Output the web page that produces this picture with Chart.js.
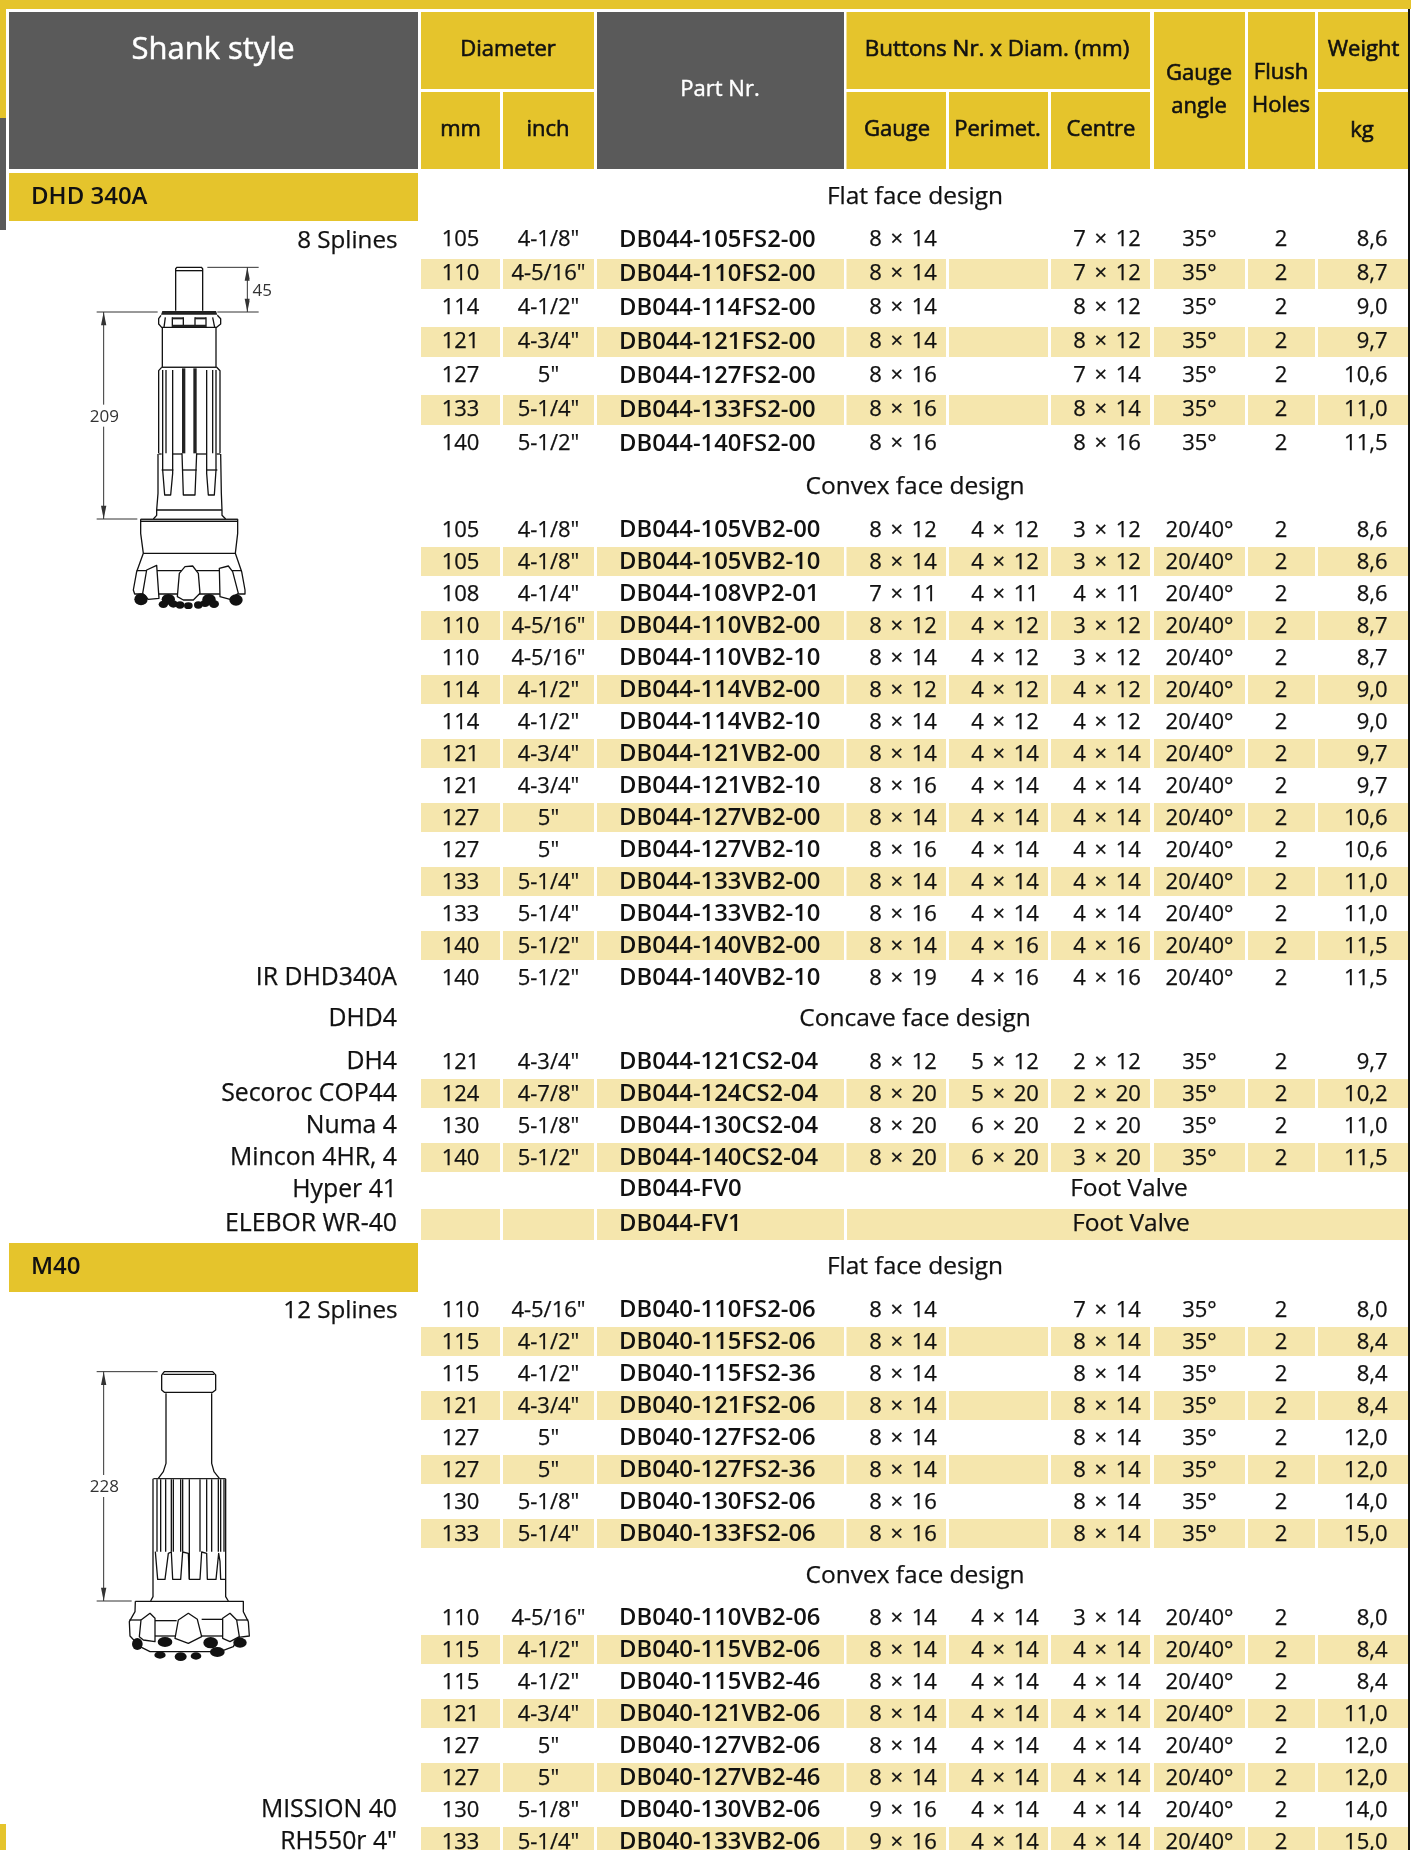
<!DOCTYPE html>
<html>
<head>
<meta charset="utf-8">
<title>DHD 340A / M40 bits</title>
<script src="https://cdn.jsdelivr.net/npm/chart.js@4"></script>
<style>
  html, body { margin: 0; padding: 0; background: #fff; }
  canvas { display: block; }
</style>
</head>
<body>
<canvas id="tableChart" width="1411" height="1850"></canvas>
<script>
// --- DATA: mm, inch, part nr, gauge, perimeter, centre, angle, holes, kg ---
const dhdFlat = [
  ['105', '4-1/8"', 'DB044-105FS2-00', '8 × 14', '', '7 × 12', '35°', '2', '8,6'],
  ['110', '4-5/16"', 'DB044-110FS2-00', '8 × 14', '', '7 × 12', '35°', '2', '8,7'],
  ['114', '4-1/2"', 'DB044-114FS2-00', '8 × 14', '', '8 × 12', '35°', '2', '9,0'],
  ['121', '4-3/4"', 'DB044-121FS2-00', '8 × 14', '', '8 × 12', '35°', '2', '9,7'],
  ['127', '5"', 'DB044-127FS2-00', '8 × 16', '', '7 × 14', '35°', '2', '10,6'],
  ['133', '5-1/4"', 'DB044-133FS2-00', '8 × 16', '', '8 × 14', '35°', '2', '11,0'],
  ['140', '5-1/2"', 'DB044-140FS2-00', '8 × 16', '', '8 × 16', '35°', '2', '11,5']
];
const dhdConvex = [
  ['105', '4-1/8"', 'DB044-105VB2-00', '8 × 12', '4 × 12', '3 × 12', '20/40°', '2', '8,6'],
  ['105', '4-1/8"', 'DB044-105VB2-10', '8 × 14', '4 × 12', '3 × 12', '20/40°', '2', '8,6'],
  ['108', '4-1/4"', 'DB044-108VP2-01', '7 × 11', '4 × 11', '4 × 11', '20/40°', '2', '8,6'],
  ['110', '4-5/16"', 'DB044-110VB2-00', '8 × 12', '4 × 12', '3 × 12', '20/40°', '2', '8,7'],
  ['110', '4-5/16"', 'DB044-110VB2-10', '8 × 14', '4 × 12', '3 × 12', '20/40°', '2', '8,7'],
  ['114', '4-1/2"', 'DB044-114VB2-00', '8 × 12', '4 × 12', '4 × 12', '20/40°', '2', '9,0'],
  ['114', '4-1/2"', 'DB044-114VB2-10', '8 × 14', '4 × 12', '4 × 12', '20/40°', '2', '9,0'],
  ['121', '4-3/4"', 'DB044-121VB2-00', '8 × 14', '4 × 14', '4 × 14', '20/40°', '2', '9,7'],
  ['121', '4-3/4"', 'DB044-121VB2-10', '8 × 16', '4 × 14', '4 × 14', '20/40°', '2', '9,7'],
  ['127', '5"', 'DB044-127VB2-00', '8 × 14', '4 × 14', '4 × 14', '20/40°', '2', '10,6'],
  ['127', '5"', 'DB044-127VB2-10', '8 × 16', '4 × 14', '4 × 14', '20/40°', '2', '10,6'],
  ['133', '5-1/4"', 'DB044-133VB2-00', '8 × 14', '4 × 14', '4 × 14', '20/40°', '2', '11,0'],
  ['133', '5-1/4"', 'DB044-133VB2-10', '8 × 16', '4 × 14', '4 × 14', '20/40°', '2', '11,0'],
  ['140', '5-1/2"', 'DB044-140VB2-00', '8 × 14', '4 × 16', '4 × 16', '20/40°', '2', '11,5'],
  ['140', '5-1/2"', 'DB044-140VB2-10', '8 × 19', '4 × 16', '4 × 16', '20/40°', '2', '11,5']
];
const dhdConcave = [
  ['121', '4-3/4"', 'DB044-121CS2-04', '8 × 12', '5 × 12', '2 × 12', '35°', '2', '9,7'],
  ['124', '4-7/8"', 'DB044-124CS2-04', '8 × 20', '5 × 20', '2 × 20', '35°', '2', '10,2'],
  ['130', '5-1/8"', 'DB044-130CS2-04', '8 × 20', '6 × 20', '2 × 20', '35°', '2', '11,0'],
  ['140', '5-1/2"', 'DB044-140CS2-04', '8 × 20', '6 × 20', '3 × 20', '35°', '2', '11,5']
];
const m40Flat = [
  ['110', '4-5/16"', 'DB040-110FS2-06', '8 × 14', '', '7 × 14', '35°', '2', '8,0'],
  ['115', '4-1/2"', 'DB040-115FS2-06', '8 × 14', '', '8 × 14', '35°', '2', '8,4'],
  ['115', '4-1/2"', 'DB040-115FS2-36', '8 × 14', '', '8 × 14', '35°', '2', '8,4'],
  ['121', '4-3/4"', 'DB040-121FS2-06', '8 × 14', '', '8 × 14', '35°', '2', '8,4'],
  ['127', '5"', 'DB040-127FS2-06', '8 × 14', '', '8 × 14', '35°', '2', '12,0'],
  ['127', '5"', 'DB040-127FS2-36', '8 × 14', '', '8 × 14', '35°', '2', '12,0'],
  ['130', '5-1/8"', 'DB040-130FS2-06', '8 × 16', '', '8 × 14', '35°', '2', '14,0'],
  ['133', '5-1/4"', 'DB040-133FS2-06', '8 × 16', '', '8 × 14', '35°', '2', '15,0']
];
const m40Convex = [
  ['110', '4-5/16"', 'DB040-110VB2-06', '8 × 14', '4 × 14', '3 × 14', '20/40°', '2', '8,0'],
  ['115', '4-1/2"', 'DB040-115VB2-06', '8 × 14', '4 × 14', '4 × 14', '20/40°', '2', '8,4'],
  ['115', '4-1/2"', 'DB040-115VB2-46', '8 × 14', '4 × 14', '4 × 14', '20/40°', '2', '8,4'],
  ['121', '4-3/4"', 'DB040-121VB2-06', '8 × 14', '4 × 14', '4 × 14', '20/40°', '2', '11,0'],
  ['127', '5"', 'DB040-127VB2-06', '8 × 14', '4 × 14', '4 × 14', '20/40°', '2', '12,0'],
  ['127', '5"', 'DB040-127VB2-46', '8 × 14', '4 × 14', '4 × 14', '20/40°', '2', '12,0'],
  ['130', '5-1/8"', 'DB040-130VB2-06', '9 × 16', '4 × 14', '4 × 14', '20/40°', '2', '14,0'],
  ['133', '5-1/4"', 'DB040-133VB2-06', '9 × 16', '4 × 14', '4 × 14', '20/40°', '2', '15,0']
];
const footValves = ['DB044-FV0', 'DB044-FV1'];
const footValveLabel = 'Foot Valve';
const sectionNames = ['DHD 340A', 'M40'];
const designNames = ['Flat face design', 'Convex face design', 'Concave face design'];
const splineNames = ['8 Splines', '12 Splines'];
const dhdMachines = ['IR DHD340A', 'DHD4', 'DH4', 'Secoroc COP44', 'Numa 4', 'Mincon 4HR, 4', 'Hyper 41', 'ELEBOR WR-40'];
const m40Machines = ['MISSION 40', 'RH550r 4"'];

// --- LAYOUT ---
const YELLOW = '#e5c42c';
const GREY = '#5a5a5a';
const STRIPE = '#f5e6ad';
const INK = '#111';
const FONT = '"Open Sans", "Noto Sans", sans-serif';
const TEXT_DY = 2; // Open Sans sits a little high with a middle baseline

// column edges [left, right], same order as the rows above
const cols = [[421, 500], [503, 594], [597, 844], [846.5, 946], [949, 1048], [1051, 1150], [1154, 1245], [1248, 1315], [1318, 1408]];
const colText = [
  { x: 460.5, align: 'center' }, { x: 548.5, align: 'center' }, { x: 619, align: 'left', weight: 600, size: 23.8 },
  { x: 903, align: 'center' }, { x: 1005, align: 'center' }, { x: 1107, align: 'center' },
  { x: 1199.5, align: 'center' }, { x: 1281, align: 'center' }, { x: 1387.5, align: 'right' }
];
const blocks = [
  { rows: dhdFlat, top: 225, pitch: 34, band: 30, textY: 13 },
  { rows: dhdConvex, top: 515, pitch: 32, band: 29, textY: 13.5 },
  { rows: dhdConcave, top: 1047, pitch: 32, band: 29, textY: 13.5 },
  { rows: m40Flat, top: 1295, pitch: 32, band: 29, textY: 13.5 },
  { rows: m40Convex, top: 1603, pitch: 32, band: 29, textY: 13.5 }
];

// every filled box is a floating horizontal bar on the x / y scales
const datasets = [];
function addBars(color, top, height, spans) {
  datasets.push({
    data: spans.map(s => ({ x: s, y: top + height / 2 })),
    backgroundColor: color,
    barThickness: height,
    borderWidth: 0,
    inflateAmount: 0,
    grouped: false
  });
}

addBars(YELLOW, 0, 9, [[0, 1411]]);
addBars(YELLOW, 9, 109, [[0, 6]]);
addBars(GREY, 118, 112, [[0, 6]]);
addBars(YELLOW, 1824, 26, [[0, 6]]);
addBars('#111', 9, 1841, [[1408, 1410]]);
addBars(GREY, 12, 157, [[9, 418], [597, 844]]);
addBars(YELLOW, 12, 77, [[421, 594], [846.5, 1150], [1318, 1408]]);
addBars(YELLOW, 92, 77, [cols[0], cols[1], cols[3], cols[4], cols[5], [1318, 1408]]);
addBars(YELLOW, 12, 157, [cols[6], cols[7]]);
addBars(YELLOW, 173, 48, [[9, 418]]);
addBars(YELLOW, 1243, 49, [[9, 418]]);
blocks.forEach(b => {
  b.rows.forEach((row, i) => {
    if (i % 2 === 1) addBars(STRIPE, b.top + i * b.pitch, b.band, cols);
  });
});
addBars(STRIPE, 1209, 31, [cols[0], cols[1], cols[2], [847, 1408]]);

// --- TEXT ---
const texts = [];
function addText(str, x, y, size, align, color, weight, thicken) {
  texts.push({ str, x, y, size, align: align || 'center', color: color || INK, weight: weight || 400, thicken: thicken === undefined ? 0.25 : thicken });
}

addText('Shank style', 213, 48, 31, 'center', '#fff', 400, 0.5);
addText('Part Nr.', 720, 88, 22, 'center', '#fff', 400, 0.4);
addText('Diameter', 508, 48, 22, 'center', INK, 400, 0.6);
addText('mm', 460.5, 128, 22, 'center', INK, 400, 0.6);
addText('inch', 548, 128, 22, 'center', INK, 400, 0.6);
addText('Buttons Nr. x Diam. (mm)', 997, 48, 22.4, 'center', INK, 400, 0.6);
addText('Gauge', 897, 128, 22, 'center', INK, 400, 0.6);
addText('Perimet.', 997.5, 128, 22, 'center', INK, 400, 0.6);
addText('Centre', 1101, 128, 22, 'center', INK, 400, 0.6);
addText('Gauge', 1199, 72, 22, 'center', INK, 400, 0.6);
addText('angle', 1199, 105, 22, 'center', INK, 400, 0.6);
addText('Flush', 1281, 71, 22, 'center', INK, 400, 0.6);
addText('Holes', 1281, 104, 22, 'center', INK, 400, 0.6);
addText('Weight', 1363.5, 48, 22, 'center', INK, 400, 0.6);
addText('kg', 1362, 129, 22, 'center', INK, 400, 0.6);

addText(sectionNames[0], 31, 195, 24, 'left', INK, 600, 0);
addText(sectionNames[1], 31, 1265, 24, 'left', INK, 600, 0);
addText(designNames[0], 915, 195, 24.5);
addText(designNames[1], 915, 485, 24.5);
addText(designNames[2], 915, 1017, 24.5);
addText(designNames[0], 915, 1265, 24.5);
addText(designNames[1], 915, 1574, 24.5);

blocks.forEach(b => {
  b.rows.forEach((row, i) => {
    row.forEach((val, c) => {
      const bold = colText[c].weight === 600;
      if (val) addText(val, colText[c].x, b.top + i * b.pitch + b.textY, colText[c].size || 22, colText[c].align, INK, colText[c].weight, bold ? 0 : 0.25);
    });
  });
});
addText(footValves[0], 619, 1187, 23.8, 'left', INK, 600, 0);
addText(footValves[1], 619, 1222, 23.8, 'left', INK, 600, 0);
addText(footValveLabel, 1129, 1187, 24.5);
addText(footValveLabel, 1131, 1222, 24.5);

addText(splineNames[0], 397.5, 239, 24.2, 'right');
addText(splineNames[1], 397.5, 1309, 24.2, 'right');
[976, 1017, 1060, 1092, 1124, 1156, 1188, 1222].forEach((y, i) => addText(dhdMachines[i], 397, y, 24.8, 'right'));
[1808, 1840].forEach((y, i) => addText(m40Machines[i], 397, y, 24.8, 'right'));

// --- BIT DRAWINGS (coordinates in 3x drawing units, offset per bit) ---
const bit340 = {
  ox: 60, oy: 240,
  dims: [[[442, 82], [596, 82]], [[472, 216], [596, 216]], [[110, 216], [293, 216]], [[110, 837], [232, 837]]],
  arrows: [[562, 82, 216], [131, 216, 837]],
  dimTexts: [['45', 607, 150], ['209', 133, 527]],
  dark: [
    [[307, 213], [468, 213], [472, 224], [303, 224]],
    [[337, 232], [370, 232], [370, 238], [337, 238]],
    [[405, 232], [438, 232], [438, 238], [405, 238]],
    [[337, 254], [438, 254], [438, 262], [337, 262]],
    [[366, 385], [376, 385], [376, 640], [366, 640]],
    [[400, 385], [410, 385], [410, 640], [400, 640]],
    [[305, 380], [470, 380], [470, 384], [305, 384]],
    [[242, 836], [533, 836], [533, 841], [242, 841]]
  ],
  lines: [
    [[347, 212], [347, 86], [351, 82], [424, 82], [428, 86], [428, 212]], [[347, 92], [428, 92]],
    [[303, 226], [296, 236], [296, 252], [305, 262], [470, 262], [482, 252], [482, 236], [472, 226]],
    [[337, 232], [337, 262]], [[370, 232], [370, 262]], [[405, 232], [405, 262]], [[438, 232], [438, 262]],
    [[316, 232], [312, 262]], [[458, 232], [464, 262]],
    [[307, 262], [307, 382]], [[468, 262], [468, 382]], [[305, 382], [470, 382]],
    [[305, 382], [296, 392], [296, 640]], [[470, 382], [480, 392], [480, 640]],
    [[308, 390], [308, 690], [314, 765], [332, 765], [338, 700], [338, 390]], [[318, 390], [318, 640]],
    [[440, 390], [440, 700], [445, 765], [463, 765], [468, 690], [468, 390]], [[458, 390], [458, 640]],
    [[366, 640], [370, 765], [405, 765], [410, 640]],
    [[296, 642], [305, 642]], [[338, 642], [366, 642]], [[410, 642], [440, 642]], [[470, 642], [480, 642]],
    [[305, 690], [340, 690]], [[366, 690], [410, 690]], [[440, 690], [472, 690]],
    [[294, 642], [294, 760], [290, 810], [290, 826], [280, 837]], [[482, 642], [484, 760], [486, 810], [486, 826], [497, 837]],
    [[290, 810], [486, 810]],
    [[242, 838], [533, 838], [533, 880], [526, 940], [545, 995], [555, 1050], [555, 1062], [224, 1062], [220, 1050], [230, 995], [250, 940], [242, 880], [242, 838]],
    [[242, 844], [533, 844]], [[250, 940], [526, 940]], [[230, 992], [545, 992]]
  ],
  lobes: [
    [[352, 1070], [358, 1000], [375, 980], [398, 978], [415, 1000], [420, 1060], [400, 1080], [370, 1080]],
    [[248, 1060], [260, 990], [290, 976], [297, 1075], [265, 1078]],
    [[480, 1070], [478, 985], [505, 978], [518, 995], [535, 1060], [510, 1078]]
  ],
  carbide: [[243, 1078, 20, 18], [325, 1078, 20, 16], [310, 1093, 14, 11], [340, 1092, 14, 11], [360, 1095, 13, 11], [385, 1097, 13, 10], [415, 1095, 13, 11], [435, 1090, 14, 11], [447, 1078, 20, 16], [462, 1092, 15, 12], [528, 1080, 20, 17]]
};
const bitM40 = {
  ox: 60, oy: 1340,
  dims: [[[110, 95], [293, 95]], [[110, 783], [215, 783]]],
  arrows: [[131, 95, 783]],
  dimTexts: [['228', 133, 438]],
  dark: [[[280, 414], [497, 414], [497, 418], [280, 418]]],
  lines: [
    [[305, 105], [313, 95], [458, 95], [467, 105], [467, 150], [458, 157], [313, 157], [305, 150], [305, 105]], [[310, 103], [462, 103]],
    [[318, 160], [318, 370], [310, 395], [295, 415]], [[455, 160], [455, 370], [462, 395], [478, 415]],
    [[279, 416], [279, 770], [272, 783]], [[497, 416], [497, 770], [505, 783]],
    [[291, 418], [291, 635]], [[302, 418], [302, 635]], [[317, 418], [317, 635]], [[334, 418], [334, 635]], [[340, 418], [340, 635]],
    [[362, 418], [362, 635]], [[368, 418], [368, 635]], [[388, 418], [388, 718]], [[420, 418], [420, 635]], [[440, 418], [440, 635]],
    [[455, 418], [455, 635]], [[475, 418], [475, 635]], [[482, 418], [482, 635]], [[492, 418], [492, 635]],
    [[286, 635], [293, 718], [315, 718], [325, 640], [334, 636], [338, 718], [362, 718], [368, 636], [385, 640], [388, 718], [420, 718], [425, 636], [440, 640], [442, 718], [468, 718], [476, 640], [480, 664], [482, 718], [497, 718]],
    [[226, 784], [550, 784], [550, 815], [565, 845], [568, 888], [535, 892], [520, 920], [480, 935], [270, 935], [240, 920], [210, 888], [208, 845], [225, 815], [226, 784]],
    [[283, 842], [350, 842]], [[283, 888], [350, 888]], [[425, 838], [490, 838]], [[425, 888], [490, 888]],
    [[208, 840], [243, 840]], [[530, 840], [565, 840]]
  ],
  lobes: [
    [[345, 895], [355, 840], [385, 820], [412, 838], [425, 890], [385, 910]],
    [[238, 890], [243, 840], [270, 820], [285, 835], [285, 905], [250, 900]],
    [[488, 895], [488, 835], [510, 820], [530, 840], [538, 890], [510, 905]]
  ],
  carbide: [[232, 912, 16, 18], [315, 906, 22, 15], [452, 908, 22, 17], [540, 908, 20, 15], [300, 945, 17, 11], [362, 950, 18, 13], [408, 948, 16, 11], [472, 936, 22, 15]]
};

function drawBit(chart, bit) {
  const { ctx, scales } = chart;
  const px = v => scales.x.getPixelForValue(bit.ox + v / 3);
  const py = v => scales.y.getPixelForValue(bit.oy + v / 3);
  const trace = pts => {
    ctx.beginPath();
    pts.forEach((p, i) => i ? ctx.lineTo(px(p[0]), py(p[1])) : ctx.moveTo(px(p[0]), py(p[1])));
  };
  ctx.save();
  ctx.lineJoin = 'round';
  ctx.strokeStyle = '#333';
  ctx.lineWidth = 1;
  bit.dims.forEach(l => { trace(l); ctx.stroke(); });
  bit.arrows.forEach(a => {
    trace([[a[0], a[1]], [a[0], a[2]]]);
    ctx.stroke();
    ctx.fillStyle = '#333';
    [[a[1], 1], [a[2], -1]].forEach(h => {
      trace([[a[0], h[0]], [a[0] - 8, h[0] + h[1] * 40], [a[0] + 8, h[0] + h[1] * 40]]);
      ctx.fill();
    });
  });
  ctx.strokeStyle = '#111';
  ctx.lineWidth = 1.3;
  bit.lines.forEach(l => { trace(l); ctx.stroke(); });
  ctx.fillStyle = '#222';
  bit.dark.forEach(l => { trace(l); ctx.closePath(); ctx.fill(); });
  // lobes first, the carbide buttons overlap their lower edge
  bit.lobes.forEach(l => {
    trace(l);
    ctx.closePath();
    ctx.fillStyle = '#fff';
    ctx.fill();
    ctx.stroke();
  });
  bit.carbide.forEach(c => {
    ctx.fillStyle = '#111';
    ctx.beginPath();
    ctx.ellipse(px(c[0]), py(c[1]), c[2] / 3, c[3] / 3, 0, 0, Math.PI * 2);
    ctx.fill();
  });
  ctx.font = '17px ' + FONT;
  ctx.textAlign = 'center';
  ctx.textBaseline = 'middle';
  bit.dimTexts.forEach(t => {
    const w = ctx.measureText(t[0]).width + 6;
    ctx.fillStyle = '#fff';
    ctx.fillRect(px(t[1]) - w / 2, py(t[2]) - 11, w, 22);
    ctx.fillStyle = '#333';
    ctx.fillText(t[0], px(t[1]), py(t[2]) + 1);
  });
  ctx.restore();
}

const tablePlugin = {
  id: 'tablePlugin',
  afterDatasetsDraw(chart) {
    const { ctx, scales } = chart;
    drawBit(chart, bit340);
    drawBit(chart, bitM40);
    ctx.save();
    ctx.textBaseline = 'middle';
    texts.forEach(t => {
      const x = scales.x.getPixelForValue(t.x);
      const y = scales.y.getPixelForValue(t.y + TEXT_DY);
      ctx.font = t.weight + ' ' + t.size + 'px ' + FONT;
      ctx.textAlign = t.align;
      ctx.fillStyle = t.color;
      // the × rows have wider gaps in the reference
      ctx.wordSpacing = t.str.includes('×') ? '3px' : '0px';
      ctx.fillText(t.str, x, y);
      if (t.thicken) {
        ctx.strokeStyle = t.color;
        ctx.lineWidth = t.thicken;
        ctx.strokeText(t.str, x, y);
      }
    });
    ctx.restore();
  }
};

new Chart(document.getElementById('tableChart'), {
  type: 'bar',
  data: { datasets },
  options: {
    indexAxis: 'y',
    responsive: false,
    animation: false,
    devicePixelRatio: 1,
    layout: { padding: 0 },
    plugins: { legend: { display: false }, tooltip: { enabled: false } },
    scales: {
      x: { type: 'linear', min: 0, max: 1411, display: false },
      y: { type: 'linear', min: 0, max: 1850, reverse: true, offset: false, display: false }
    }
  },
  plugins: [tablePlugin]
});
</script>
</body>
</html>
